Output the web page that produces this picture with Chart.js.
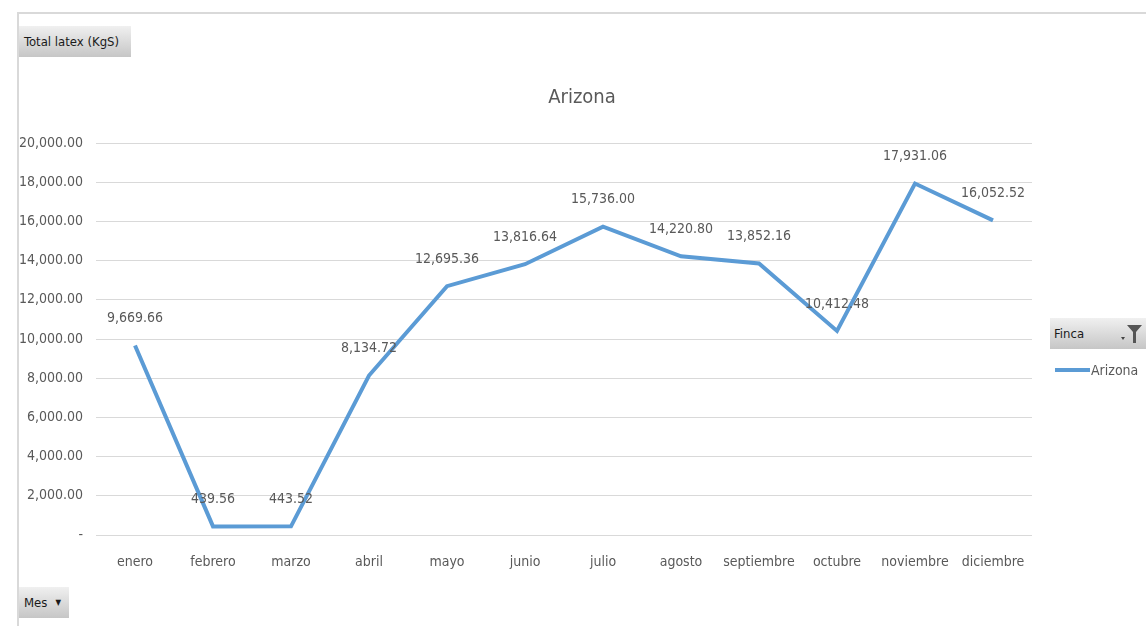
<!DOCTYPE html>
<html>
<head>
<meta charset="utf-8">
<script src="https://cdn.jsdelivr.net/npm/chart.js@4"></script>
<style>
    html, body { margin: 0; padding: 0; background: #fff; }
    body { width: 1146px; height: 626px; position: relative; overflow: hidden;
           font-family: "Liberation Sans Narrow", "DejaVu Sans Condensed", sans-serif; }
    #frame { position: absolute; left: 17px; top: 12px; right: -4px; bottom: -4px;
             border-top: 2px solid #d9d9d9; border-left: 2px solid #d9d9d9; }
    #wrap { position: absolute; left: 0; top: 0; width: 1146px; height: 626px; }
    #titulo { position: absolute; left: 482px; width: 200px; top: 84px; text-align: center;
              font-size: 20px; color: #595959; line-height: 24px; }
    .btn { position: absolute; height: 31px; line-height: 31px; font-size: 13px; color: #1a1a1a;
           white-space: nowrap; background: linear-gradient(#f0f0f0, #c6c6c6);
           box-sizing: border-box; padding-left: 5px; }
    .btn .arrow { font-size: 8px; margin-left: 8px; vertical-align: 2px; }
    #legend { position: absolute; left: 1055px; top: 359px; font-size: 14px; color: #595959; }
    #legend .item { display: flex; align-items: center; height: 22px; white-space: nowrap; }
    #legend .swatch { width: 35px; height: 4px; margin-right: 1px; }
</style>
</head>
<body>
<div id="frame"></div>
<div id="wrap"><canvas id="chart" width="1146" height="626"></canvas></div>
<div id="titulo"></div>
<div class="btn" style="left:19px; top:26px; width:112px;">Total latex (KgS)</div>
<div class="btn" style="left:19px; top:587px; width:50px;">Mes<span class="arrow">&#9660;</span></div>
<div class="btn" style="left:1050px; top:318px; width:96px; padding-left:4px;">Finca
    <svg width="24" height="20" style="position:absolute; right:2px; top:6px;" viewBox="0 0 24 20">
        <path d="M1 13 H5 L3 16 Z" fill="#444"/>
        <path d="M7 1 H22 L16 8 V19 H13 V8 Z" fill="#555"/>
    </svg>
</div>
<div id="legend"></div>

<script>
const meses = ['enero', 'febrero', 'marzo', 'abril', 'mayo', 'junio', 'julio',
    'agosto', 'septiembre', 'octubre', 'noviembre', 'diciembre'];
const arizona = [9669.66, 439.56, 443.52, 8134.72, 12695.36, 13816.64, 15736.00,
    14220.80, 13852.16, 10412.48, 17931.06, 16052.52];
const serieNombre = 'Arizona';
const tituloGrafico = 'Arizona';

const gris = '#595959';
const azul = '#5b9bd5';
const fuente = '"Liberation Sans Narrow", "DejaVu Sans Condensed", sans-serif';

function fmt(v) {
    return v.toLocaleString('en-US', { minimumFractionDigits: 2, maximumFractionDigits: 2 });
}

// etiquetas de datos encima de cada punto
const etiquetas = {
    id: 'etiquetas',
    afterDatasetsDraw(chart) {
        const ctx = chart.ctx;
        ctx.save();
        ctx.font = '14px ' + fuente;
        ctx.fillStyle = gris;
        ctx.textAlign = 'center';
        ctx.textBaseline = 'middle';
        chart.data.datasets.forEach((ds, i) => {
            chart.getDatasetMeta(i).data.forEach((pt, j) => {
                ctx.fillText(fmt(ds.data[j]), pt.x, pt.y - 27);
            });
        });
        ctx.restore();
    }
};

document.getElementById('titulo').textContent = tituloGrafico;

const chart = new Chart(document.getElementById('chart'), {
    type: 'line',
    data: {
        labels: meses,
        datasets: [{
            label: serieNombre,
            data: arizona,
            borderColor: azul,
            backgroundColor: azul,
            borderWidth: 4,
            pointRadius: 0,
            tension: 0,
            borderJoinStyle: 'miter'
        }]
    },
    options: {
        responsive: false,
        animation: false,
        layout: { padding: { left: 0, right: 114, top: 143, bottom: 0 } },
        plugins: {
            legend: { display: false },
            tooltip: { enabled: false },
            title: { display: false }
        },
        scales: {
            x: {
                offset: true,
                grid: { display: false, drawTicks: false },
                border: { display: false },
                ticks: { color: gris, font: { family: fuente, size: 14 }, padding: 19,
                         maxRotation: 0, autoSkip: false },
                afterFit(scale) { scale.height = 91; }
            },
            y: {
                min: 0,
                max: 20000,
                grid: { color: '#d9d9d9', lineWidth: 1, drawTicks: false },
                border: { display: false },
                ticks: {
                    stepSize: 2000,
                    color: gris,
                    font: { family: fuente, size: 14 },
                    padding: 13,
                    callback: v => v === 0 ? '-' : fmt(v)
                },
                afterFit(scale) { scale.width = 96; }
            }
        }
    },
    plugins: [etiquetas]
});

// leyenda en HTML a partir de los datasets
const legend = document.getElementById('legend');
chart.data.datasets.forEach(ds => {
    const item = document.createElement('div');
    item.className = 'item';
    item.innerHTML = '<span class="swatch" style="background:' + ds.borderColor + '"></span>' + ds.label;
    legend.appendChild(item);
});
</script>
</body>
</html>
